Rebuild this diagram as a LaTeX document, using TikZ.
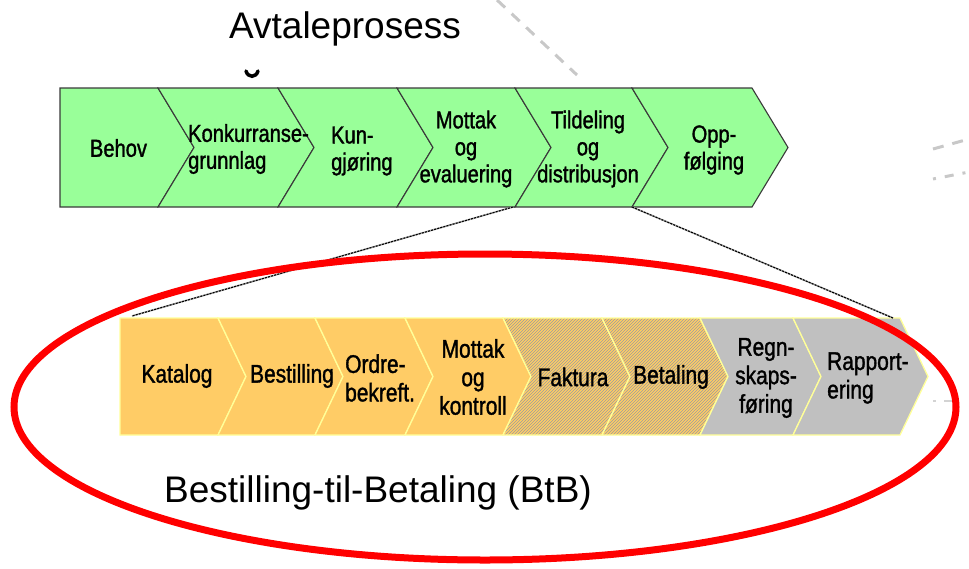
\documentclass[tikz,border=0pt]{standalone}
\usepackage{fontspec}
\setmainfont{Liberation Sans}
\newfontfamily\narrowfont[FakeStretch=0.82,FakeBold=1.3]{Liberation Sans}
\usetikzlibrary{patterns}
\definecolor{greenF}{HTML}{99FF99}
\definecolor{orangeF}{HTML}{FFCC66}
\definecolor{grayF}{HTML}{C0C0C0}
\definecolor{yellowB}{HTML}{FFFF99}
\definecolor{hatchC}{HTML}{9C9C9C}
\definecolor{darkB}{HTML}{3A3A3A}
\definecolor{dashG}{HTML}{C8C8C8}
% #1 left x, #2 right x, #3 top y, #4 bottom y, #5 tip offset, #6 style
\newcommand{\mychev}[6]{\path[#6] (#1,#3) -- (#2,#3) -- ({#2+#5},{(#3+#4)/2}) -- (#2,#4) -- (#1,#4) -- ({#1+#5},{(#3+#4)/2}) -- cycle;}
\newcommand{\mychevflat}[6]{\path[#6] (#1,#3) -- (#2,#3) -- ({#2+#5},{(#3+#4)/2}) -- (#2,#4) -- (#1,#4) -- cycle;}
\begin{document}
\begin{tikzpicture}[x=1pt,y=-1pt,
  topchev/.style={fill=greenF, draw=darkB, line width=1.1pt, line join=miter},
  orchev/.style={fill=orangeF, draw=yellowB, line width=1.3pt, line join=miter},
  hachev/.style={preaction={fill=orangeF}, pattern=north east lines, pattern color=hatchC, draw=yellowB, line width=1.3pt, line join=miter},
  grchev/.style={fill=grayF, draw=yellowB, line width=1.3pt, line join=miter},
  toplbl/.style={font=\narrowfont\fontsize{24.5}{27}\selectfont, inner sep=0pt, align=center},
  botlbl/.style={font=\narrowfont\fontsize{25.5}{28.5}\selectfont, inner sep=0pt, align=center},
  title/.style={font=\fontsize{37}{40}\selectfont, inner sep=0pt},
  link/.style={draw=black, line width=1.1pt, dash pattern=on 2pt off 1.2pt, preaction={draw=gray!70, line width=1.6pt}},
  bgdash/.style={draw=dashG, line width=3pt, dash pattern=on 11pt off 9pt},
  ring/.style={draw=red, line width=7pt}]
\useasboundingbox (0,0) rectangle (969,568);
% background dashed fragments
\draw[bgdash] (497,0) -- (577,75);
\draw[bgdash] (933,149) -- (969,139);
\draw[bgdash, dash pattern=on 3pt off 9pt on 9pt off 9pt] (933,179) -- (969,172);
\draw[draw=dashG!80, line width=2pt, dash pattern=on 3pt off 8pt on 8pt off 8pt] (933,401) -- (958,401);
% small mark under title
\draw[line width=3.5pt, line cap=round] (246,71) .. controls (248,78) and (256,78) .. (258,71);
% top row
\mychevflat{60}{158}{88}{207}{36}{topchev}
\mychev{158}{278}{88}{207}{36}{topchev}
\mychev{278}{397}{88}{207}{36}{topchev}
\mychev{397}{515}{88}{207}{36}{topchev}
\mychev{515}{632}{88}{207}{36}{topchev}
\mychev{632}{752}{88}{207}{36}{topchev}
% bottom row
\mychevflat{120}{218}{318}{435}{28}{orchev}
\mychev{218}{315}{318}{435}{28}{orchev}
\mychev{315}{405}{318}{435}{28}{orchev}
\mychev{405}{503}{318}{435}{28}{orchev}
\mychev{503}{602}{318}{435}{28}{hachev}
\mychev{602}{700}{318}{435}{28}{hachev}
\mychev{700}{793}{318}{435}{28}{grchev}
\mychev{793}{900}{318}{435}{28}{grchev}
% connector end points
\coordinate (tA) at (513,207);
\coordinate (bA) at (132,316);
\coordinate (tB) at (632,207);
\coordinate (bB) at (893,318);
\draw[link] (tA) -- (bA);
\draw[link] (tB) -- (bB);
% top labels
\node[toplbl] (behov) at (118.5,148) {Behov};
\node[toplbl, align=left, anchor=west] (konk) at (188,149) {Konkurranse-\\grunnlag};
\node[toplbl, align=left, anchor=west] (kun) at (331,151) {Kun-\\gjøring};
\node[toplbl] (mottakA) at (466,149) {Mottak\\og\\evaluering};
\node[toplbl] (tild) at (588,149) {Tildeling\\og\\distribusjon};
\node[toplbl] (opp) at (714,150) {Opp-\\følging};
% bottom labels
\node[botlbl] (kat) at (177,376) {Katalog};
\node[botlbl] (best) at (292,376) {Bestilling};
\node[botlbl, align=left, anchor=west] (ordre) at (345,378) {Ordre-\\bekreft.};
\node[botlbl] (mottakB) at (473,377) {Mottak\\og\\kontroll};
\node[botlbl] (fakt) at (573,377) {Faktura};
\node[botlbl] (betal) at (671,377) {Betaling};
\node[botlbl] (regn) at (766,378) {Regn-\\skaps-\\føring};
\node[botlbl, align=left, anchor=west] (rapp) at (827,378) {Rapport-\\ering};
% titles
\node[title, anchor=base] (avt) at (345,38) {Avtaleprosess};
\node[title, anchor=base] (btb) at (378,502) {Bestilling-til-Betaling (BtB)};
% red ellipse
\draw[ring] (485,407) ellipse [x radius=471, y radius=153];
\end{tikzpicture}
\end{document}
